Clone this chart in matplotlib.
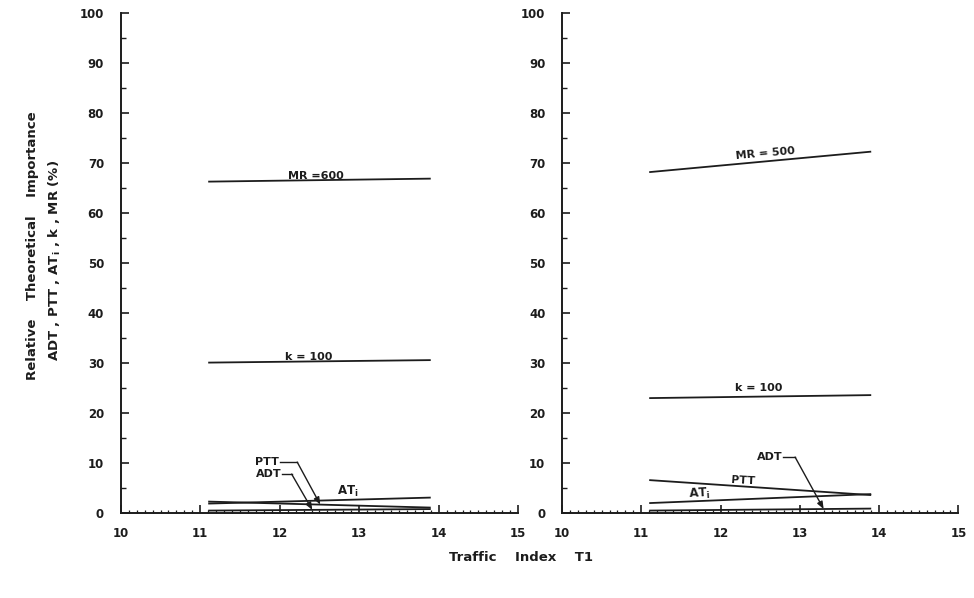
import numpy as np
import matplotlib

matplotlib.use("Agg")
import matplotlib.pyplot as plt
from matplotlib.ticker import MultipleLocator

# Traffic index span of every curve
TI = [11.1, 13.9]

# left panel (MR = 600)
MR_L = [66.3, 66.9]
K_L = [30.1, 30.6]
ATI_L = [1.9, 3.1]
PTT_L = [2.3, 1.1]
ADT_L = [0.5, 0.8]

# right panel (MR = 500)
MR_R = [68.2, 72.3]
K_R = [23.0, 23.6]
PTT_R = [6.6, 3.6]
ATI_R = [2.0, 3.8]
ADT_R = [0.5, 0.9]

XTICKS = [10, 11, 12, 13, 14, 15]
YTICKS = list(range(0, 101, 10))

INK = "#1c1c1c"
plt.rcParams.update({
    "font.family": ["DejaVu Sans"],
    "font.weight": "bold",
    "font.size": 8.5,
    "text.color": INK,
    "axes.edgecolor": INK,
    "xtick.color": INK,
    "ytick.color": INK,
})

fig = plt.figure(figsize=(9.74, 5.98), dpi=100)
ax_l = fig.add_axes([0.124, 0.142, 0.408, 0.836])
ax_r = fig.add_axes([0.577, 0.142, 0.407, 0.836])


def style(ax):
    ax.set_xlim(10, 15)
    ax.set_ylim(0, 100)
    for s in ("top", "right"):
        ax.spines[s].set_visible(False)
    for s in ("left", "bottom"):
        ax.spines[s].set_linewidth(1.4)
    ax.set_xticks(XTICKS)
    ax.set_xticklabels([str(t) for t in XTICKS])
    ax.set_yticks(YTICKS)
    ax.set_yticklabels([str(t) for t in YTICKS])
    ax.xaxis.set_minor_locator(MultipleLocator(0.1))
    ax.yaxis.set_minor_locator(MultipleLocator(5))
    ax.tick_params(axis="y", which="major", direction="in", length=6, width=1.2, pad=12)
    ax.tick_params(axis="y", which="minor", direction="in", length=3.5, width=1.0)
    ax.tick_params(axis="x", which="major", direction="in", length=6, width=1.2, pad=10)
    ax.tick_params(axis="x", which="minor", direction="in", length=2, width=0.9)


def line(ax, ys):
    ax.plot(TI, ys, color=INK, lw=1.3, solid_capstyle="butt")


def leader(ax, label, text_end, text_y, corner, target_x, series):
    # label with a horizontal leader, then an arrow down to the curve
    ax.text(text_end, text_y, label, ha="right", va="center", fontsize=8)
    ax.plot([text_end + 0.01, corner], [text_y, text_y], color=INK, lw=1.0)
    ty = np.interp(target_x, TI, series)
    ax.annotate("", xy=(target_x, ty), xytext=(corner, text_y),
                arrowprops=dict(arrowstyle="-|>,head_length=0.5,head_width=0.2",
                                color=INK, lw=1.0, shrinkA=0, shrinkB=0))


for ax in (ax_l, ax_r):
    style(ax)

# left panel
for ys in (MR_L, K_L, ATI_L, PTT_L, ADT_L):
    line(ax_l, ys)
ax_l.text(12.46, 67.5, "MR =600", ha="center", va="center", fontsize=8)
ax_l.text(12.37, 31.3, "k = 100", ha="center", va="center", fontsize=8)
ax_l.text(12.85, 4.3, "AT$_\\mathregular{i}$", ha="center", va="center", fontsize=8.5)
leader(ax_l, "PTT", 11.99, 10.2, 12.22, 12.51, PTT_L)
leader(ax_l, "ADT", 12.02, 7.8, 12.15, 12.41, ADT_L)

# right panel
for ys in (MR_R, K_R, PTT_R, ATI_R, ADT_R):
    line(ax_r, ys)
ax_r.text(12.56, 72.0, "MR = 500", ha="center", va="center", fontsize=8, rotation=5)
ax_r.text(12.48, 25.0, "k = 100", ha="center", va="center", fontsize=8)
ax_r.text(12.29, 6.5, "PTT", ha="center", va="center", fontsize=8, rotation=-3)
ax_r.text(11.73, 3.9, "AT$_\\mathregular{i}$", ha="center", va="center", fontsize=8.5, rotation=3)
leader(ax_r, "ADT", 12.78, 11.2, 12.94, 13.3, ADT_R)

fig.text(0.033, 0.589, "Relative    Theoretical    Importance", rotation=90,
         ha="center", va="center", fontsize=9.5)
fig.text(0.056, 0.565, "ADT , PTT , AT$_\\mathregular{i}$ , k , MR (%)", rotation=90,
         ha="center", va="center", fontsize=9.5)
fig.text(0.535, 0.067, "Traffic    Index    T1", ha="center", va="center", fontsize=9.5)

fig.savefig("out.png", dpi=100)
